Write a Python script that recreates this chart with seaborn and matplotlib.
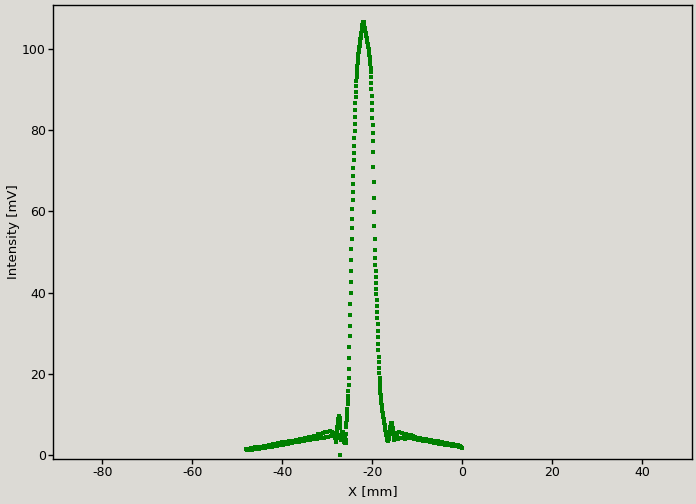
import numpy as np
import pandas as pd
import matplotlib
matplotlib.use("Agg")
import matplotlib.pyplot as plt
import seaborn as sns

# ---- data ----
# left wing, sampled every 0.25 mm from -48.0 mm
x_left_start, x_left_step = -48.0, 0.25
y_left = [
    1.60, 1.20, 1.55, 1.30,
    1.80, 1.35, 1.75, 1.45,
    1.95, 1.50, 1.90, 1.60,
    2.10, 1.65, 2.10, 1.75,
    2.30, 1.80, 2.30, 1.95,
    2.45, 2.00, 2.50, 2.10,
    2.70, 2.20, 2.70, 2.30,
    2.90, 2.40, 2.90, 2.50,
    3.10, 2.60, 3.15, 2.70,
    3.30, 2.80, 3.35, 2.90,
    3.50, 3.00, 3.55, 3.10,
    3.70, 3.20, 3.75, 3.30,
    3.90, 3.40, 3.95, 3.55,
    4.10, 3.60, 4.20, 3.75,
    4.35, 3.80, 4.55, 3.90,
    4.70, 3.95, 4.75, 4.05,
    5.10, 4.10, 5.30, 4.20,
    5.40, 4.30, 5.70, 4.40,
    5.60, 4.50, 5.90, 4.60,
    5.80, 4.70, 5.30,
]

# central region, sampled every 0.05 mm from -28.4 mm
x_mid_start, x_mid_step = -28.4, 0.05
y_mid = [
    5.0, 5.4, 4.9, 4.6, 4.3, 3.9, 3.5, 3.3, 3.6, 4.2, 4.9, 5.6, 6.3, 7.0, 7.6, 8.1, 8.6, 9.0, 9.2, 9.4,
    9.5, 9.4, 9.1, 8.5, 7.6, 6.6, 0.0, 5.0, 4.4, 4.0, 3.8, 3.7, 3.9, 4.5, 5.1, 5.6, 5.7, 5.4, 4.8, 4.1,
    3.6, 3.3, 3.2, 3.4, 3.9, 4.3, 4.0, 3.4, 3.0, 2.9, 3.6, 5.2, 6.8, 7.9, 8.7, 9.5, 10.3, 11.4, 12.5, 13.5,
    14.6, 15.8, 17.2, 19.0, 21.3, 23.8, 26.5, 29.2, 31.9, 34.6, 37.3, 40.0, 42.7, 45.4, 48.1, 50.7, 53.3, 55.8, 58.2, 60.5,
    62.7, 64.8, 66.8, 68.8, 70.7, 72.6, 74.4, 76.2, 78.0, 79.8, 81.6, 83.3, 85.0, 86.6, 88.1, 89.5, 90.8, 92.0, 93.1, 94.0,
    95.0, 95.8, 96.5, 97.1, 97.7, 98.2, 98.7, 99.2, 99.6, 100.0, 100.4, 100.8, 101.2, 101.6, 102.0, 102.4, 102.8, 103.2, 103.6, 104.0,
    104.4, 104.8, 105.2, 105.5, 105.8, 106.1, 106.4, 106.6, 106.7, 106.6, 106.4, 106.1, 105.8, 105.5, 105.2, 104.9, 104.6, 104.3, 104.0, 103.7,
    103.4, 103.1, 102.8, 102.5, 102.2, 101.9, 101.6, 101.3, 101.0, 100.7, 100.4, 100.1, 99.7, 99.3, 98.9, 98.5, 98.1, 97.6, 97.0, 96.2,
    95.3, 94.2, 93.0, 91.6, 90.1, 88.5, 86.8, 85.0, 83.1, 81.2, 79.3, 77.3, 74.5, 71.0, 67.2, 63.4, 59.8, 56.4, 53.3, 50.6,
    48.5, 46.8, 45.3, 43.9, 42.4, 41.0, 39.6, 38.2, 36.8, 35.3, 33.8, 32.2, 30.6, 29.0, 27.4, 25.8, 24.2, 22.8, 21.4, 20.1,
    18.9, 17.9, 17.0, 16.2, 15.4, 14.7, 14.0, 13.4, 12.9, 12.4, 12.0, 11.6, 11.2, 10.8, 10.3, 10.0, 9.6, 9.3, 9.0, 8.6,
    8.3, 7.9, 7.5, 7.1, 6.8, 6.4, 6.1, 5.8, 5.5, 5.2, 4.9, 4.6, 4.3, 4.0, 3.9, 3.7, 3.5, 3.4, 3.4, 3.6,
    3.9, 4.3, 4.7, 5.1, 5.5, 5.9, 6.3, 6.7, 7.0, 7.3, 7.5, 7.7, 7.8, 7.9, 7.9, 7.8, 7.6, 7.2, 6.7, 6.2,
    5.7, 5.2, 4.7, 4.3, 4.0, 3.8, 3.8, 3.9, 4.2, 4.6, 5.0, 5.3, 5.5, 5.4, 5.0, 4.5, 4.1, 4.2, 4.7, 5.2,
]

# right wing, sampled every 0.25 mm from -14.25 mm
x_right_start, x_right_step = -14.25, 0.25
y_right = [
    4.0, 5.6, 4.1, 5.5, 4.2, 5.3, 4.0, 5.2, 4.2, 5.0, 4.1, 4.9, 4.1, 4.7, 4.0, 4.5, 3.9, 4.3,
    3.70, 4.15, 3.60, 4.05, 3.50, 3.95, 3.40, 3.85, 3.35, 3.75, 3.25, 3.65, 3.15, 3.55, 3.05, 3.45, 2.95, 3.35, 2.85, 3.25,
    2.75, 3.15, 2.70, 3.05, 2.60, 2.95, 2.50, 2.85, 2.45, 2.75, 2.35, 2.65, 2.25, 2.55, 2.15, 2.45, 2.05, 2.35, 1.95, 1.80,
]

x_ticks = [-80, -60, -40, -20, 0, 20, 40]
y_ticks = [0, 20, 40, 60, 80, 100]
x_label = "X [mm]"
y_label = "Intensity [mV]"

# ---- build table ----
x_left = np.round(x_left_start + x_left_step * np.arange(len(y_left)), 3)
x_mid = np.round(x_mid_start + x_mid_step * np.arange(len(y_mid)), 3)
x_right = np.round(x_right_start + x_right_step * np.arange(len(y_right)), 3)
df = pd.DataFrame({
    "x": np.concatenate([x_left, x_mid, x_right]),
    "y": np.concatenate([y_left, y_mid, y_right]),
})

bg = "#dcdad5"
sns.set_theme(style="ticks", rc={
    "figure.facecolor": bg,
    "axes.facecolor": bg,
    "axes.edgecolor": "black",
    "axes.linewidth": 1.0,
    "xtick.color": "black",
    "ytick.color": "black",
    "text.color": "black",
    "axes.labelcolor": "black",
    "axes.unicode_minus": False,
})
plt.rcParams["font.family"] = ["DejaVu Sans"]
plt.rcParams["axes.unicode_minus"] = False

fig = plt.figure(figsize=(6.96, 5.04), dpi=100)
ax = fig.add_axes([0.076, 0.089, 0.918, 0.901])
sns.scatterplot(data=df, x="x", y="y", ax=ax, marker="s", s=6,
                color="#008000", linewidth=0, legend=False)

ax.set_xlim(-91, 51)
ax.set_ylim(-1, 110.8)
ax.set_xticks(x_ticks)
ax.set_yticks(y_ticks)
ax.tick_params(labelsize=9, length=3.6, width=1, pad=1.5)
ax.set_xlabel(x_label, fontsize=9.5, labelpad=4)
ax.set_ylabel(y_label, fontsize=9.5, labelpad=1.5)
for sp in ax.spines.values():
    sp.set_visible(True)

fig.savefig("out.png", dpi=100, facecolor=bg)
